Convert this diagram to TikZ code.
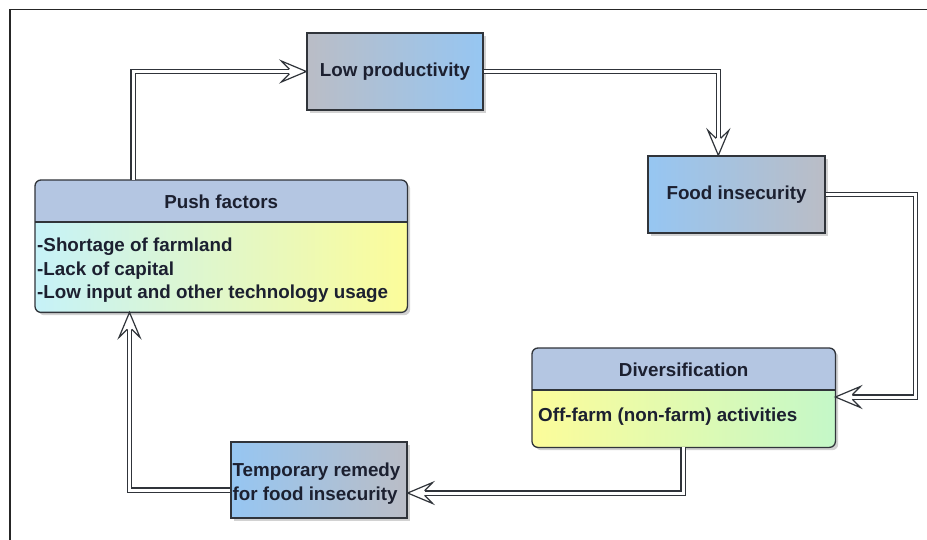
\documentclass[tikz,border=0pt]{standalone}
\usepackage{fontspec}
\setmainfont{Liberation Sans}
\usetikzlibrary{calc,shadows}
\definecolor{txt}{HTML}{1C2030}
\definecolor{bord}{HTML}{30343A}
\definecolor{gb}{HTML}{BABDC6}
\definecolor{lb}{HTML}{96C6F2}
\definecolor{hdr}{HTML}{B4C6E2}
\definecolor{cy}{HTML}{C6F2F8}
\definecolor{yl}{HTML}{FCFC9A}
\definecolor{gr}{HTML}{C4F8C8}
\tikzset{
  lbl/.style={font=\bfseries\fontsize{18.8}{23.5}\selectfont, text=txt},
  shd/.style={drop shadow={shadow xshift=3pt, shadow yshift=-3pt, opacity=0.25, fill=black!70}},
  box/.style={lbl, draw=bord, line width=1.3pt, minimum width=176pt, minimum height=77pt, inner sep=0pt, shd},
  cbox/.style={fill=white, rounded corners=6pt, inner sep=0pt, shd, anchor=north west},
  outl/.style={draw=bord, line width=1.3pt, rounded corners=6pt},
  dbl/.style={draw=bord, line width=1.1pt, double=white, double distance=3pt, shorten >=17pt},
  head/.pic={\filldraw[fill=white, draw=bord, line width=1.2pt, line join=miter]
     (-17,-2.3) -- (-25,-10.5) -- (0,0) -- (-25,10.5) -- (-17,2.3);}
}
\begin{document}
\begin{tikzpicture}[x=1pt,y=-1pt]
\useasboundingbox (0,0) rectangle (927,540);
\fill[white] (0,0) rectangle (927,540);
\draw[line width=1.6pt, black!85] (10,540) -- (10,9.5) -- (927,9.5);

% simple boxes
\node[box, left color=gb, right color=lb] (low) at (395,71.5) {\raisebox{-1.5pt}{Low productivity}};
\node[box, left color=lb, right color=gb, minimum width=177pt] (food) at (736.5,194.5) {Food insecurity};
\node[box, left color=lb, right color=gb, minimum height=76pt] (temp) at (319,480) {};
\node[lbl, anchor=west, align=left, inner sep=0pt, font=\bfseries\fontsize{18.8}{24}\selectfont] (tempT) at ($(temp.west)+(2,4)$) {Temporary remedy\\for food insecurity};

% push factors
\node[cbox, minimum width=372pt, minimum height=132pt] (push) at (35,180) {};
\begin{scope}
  \clip[rounded corners=6pt] (push.north west) rectangle (push.south east);
  \fill[hdr] (push.north west) rectangle ($(push.north east)+(0,42)$);
  \shade[left color=cy, right color=yl] ($(push.north west)+(0,42)$) rectangle (push.south east);
\end{scope}
\draw[outl] (push.north west) rectangle (push.south east);
\draw[draw=bord, line width=1.3pt] ($(push.north west)+(0,42)$) -- ($(push.north east)+(0,42)$);
\node[lbl] (pushT) at ($(push.north)+(0,22)$) {Push factors};
\node[lbl, anchor=north west, align=left, inner sep=0pt] (pushB) at ($(push.north west)+(2,58)$)
  {-Shortage of farmland\\-Lack of capital\\-Low input and other technology usage};

% diversification
\node[cbox, minimum width=303pt, minimum height=99pt] (div) at (532,348) {};
\begin{scope}
  \clip[rounded corners=6pt] (div.north west) rectangle (div.south east);
  \fill[hdr] (div.north west) rectangle ($(div.north east)+(0,42)$);
  \shade[left color=yl, right color=gr] ($(div.north west)+(0,42)$) rectangle (div.south east);
\end{scope}
\draw[outl] (div.north west) rectangle (div.south east);
\draw[draw=bord, line width=1.3pt] ($(div.north west)+(0,42)$) -- ($(div.north east)+(0,42)$);
\node[lbl] (divT) at ($(div.north)+(0,22)$) {Diversification};
\node[lbl, anchor=west, inner sep=0pt] (divB) at ($(div.north west)+(6,69)$) {Off-farm (non-farm) activities};

% connectors
\coordinate (pOut) at ($(push.north west)+(98,0)$);
\draw[dbl] (pOut) |- (low.west);
\pic at (low.west) {head};

\coordinate (fIn) at ($(food.north west)+(71,0)$);
\draw[dbl] (low.east) -| (fIn);
\pic[rotate=-90] at (fIn) {head};

\coordinate (dIn) at ($(div.north east)+(0,49)$);
\coordinate (rc) at (915.5,0);
\draw[dbl] (food.east) -| (rc |- dIn) -- (dIn);
\pic[rotate=180] at (dIn) {head};

\coordinate (dOut) at ($(div.south west)+(151,0)$);
\coordinate (tIn) at ($(temp.east)+(0,13)$);
\draw[dbl] (dOut) |- (tIn);
\pic[rotate=180] at (tIn) {head};

\coordinate (tOut) at ($(temp.west)+(0,10)$);
\coordinate (pIn) at ($(push.south west)+(94.5,0)$);
\draw[dbl] (tOut) -| (pIn);
\pic[rotate=90] at (pIn) {head};
\end{tikzpicture}
\end{document}
